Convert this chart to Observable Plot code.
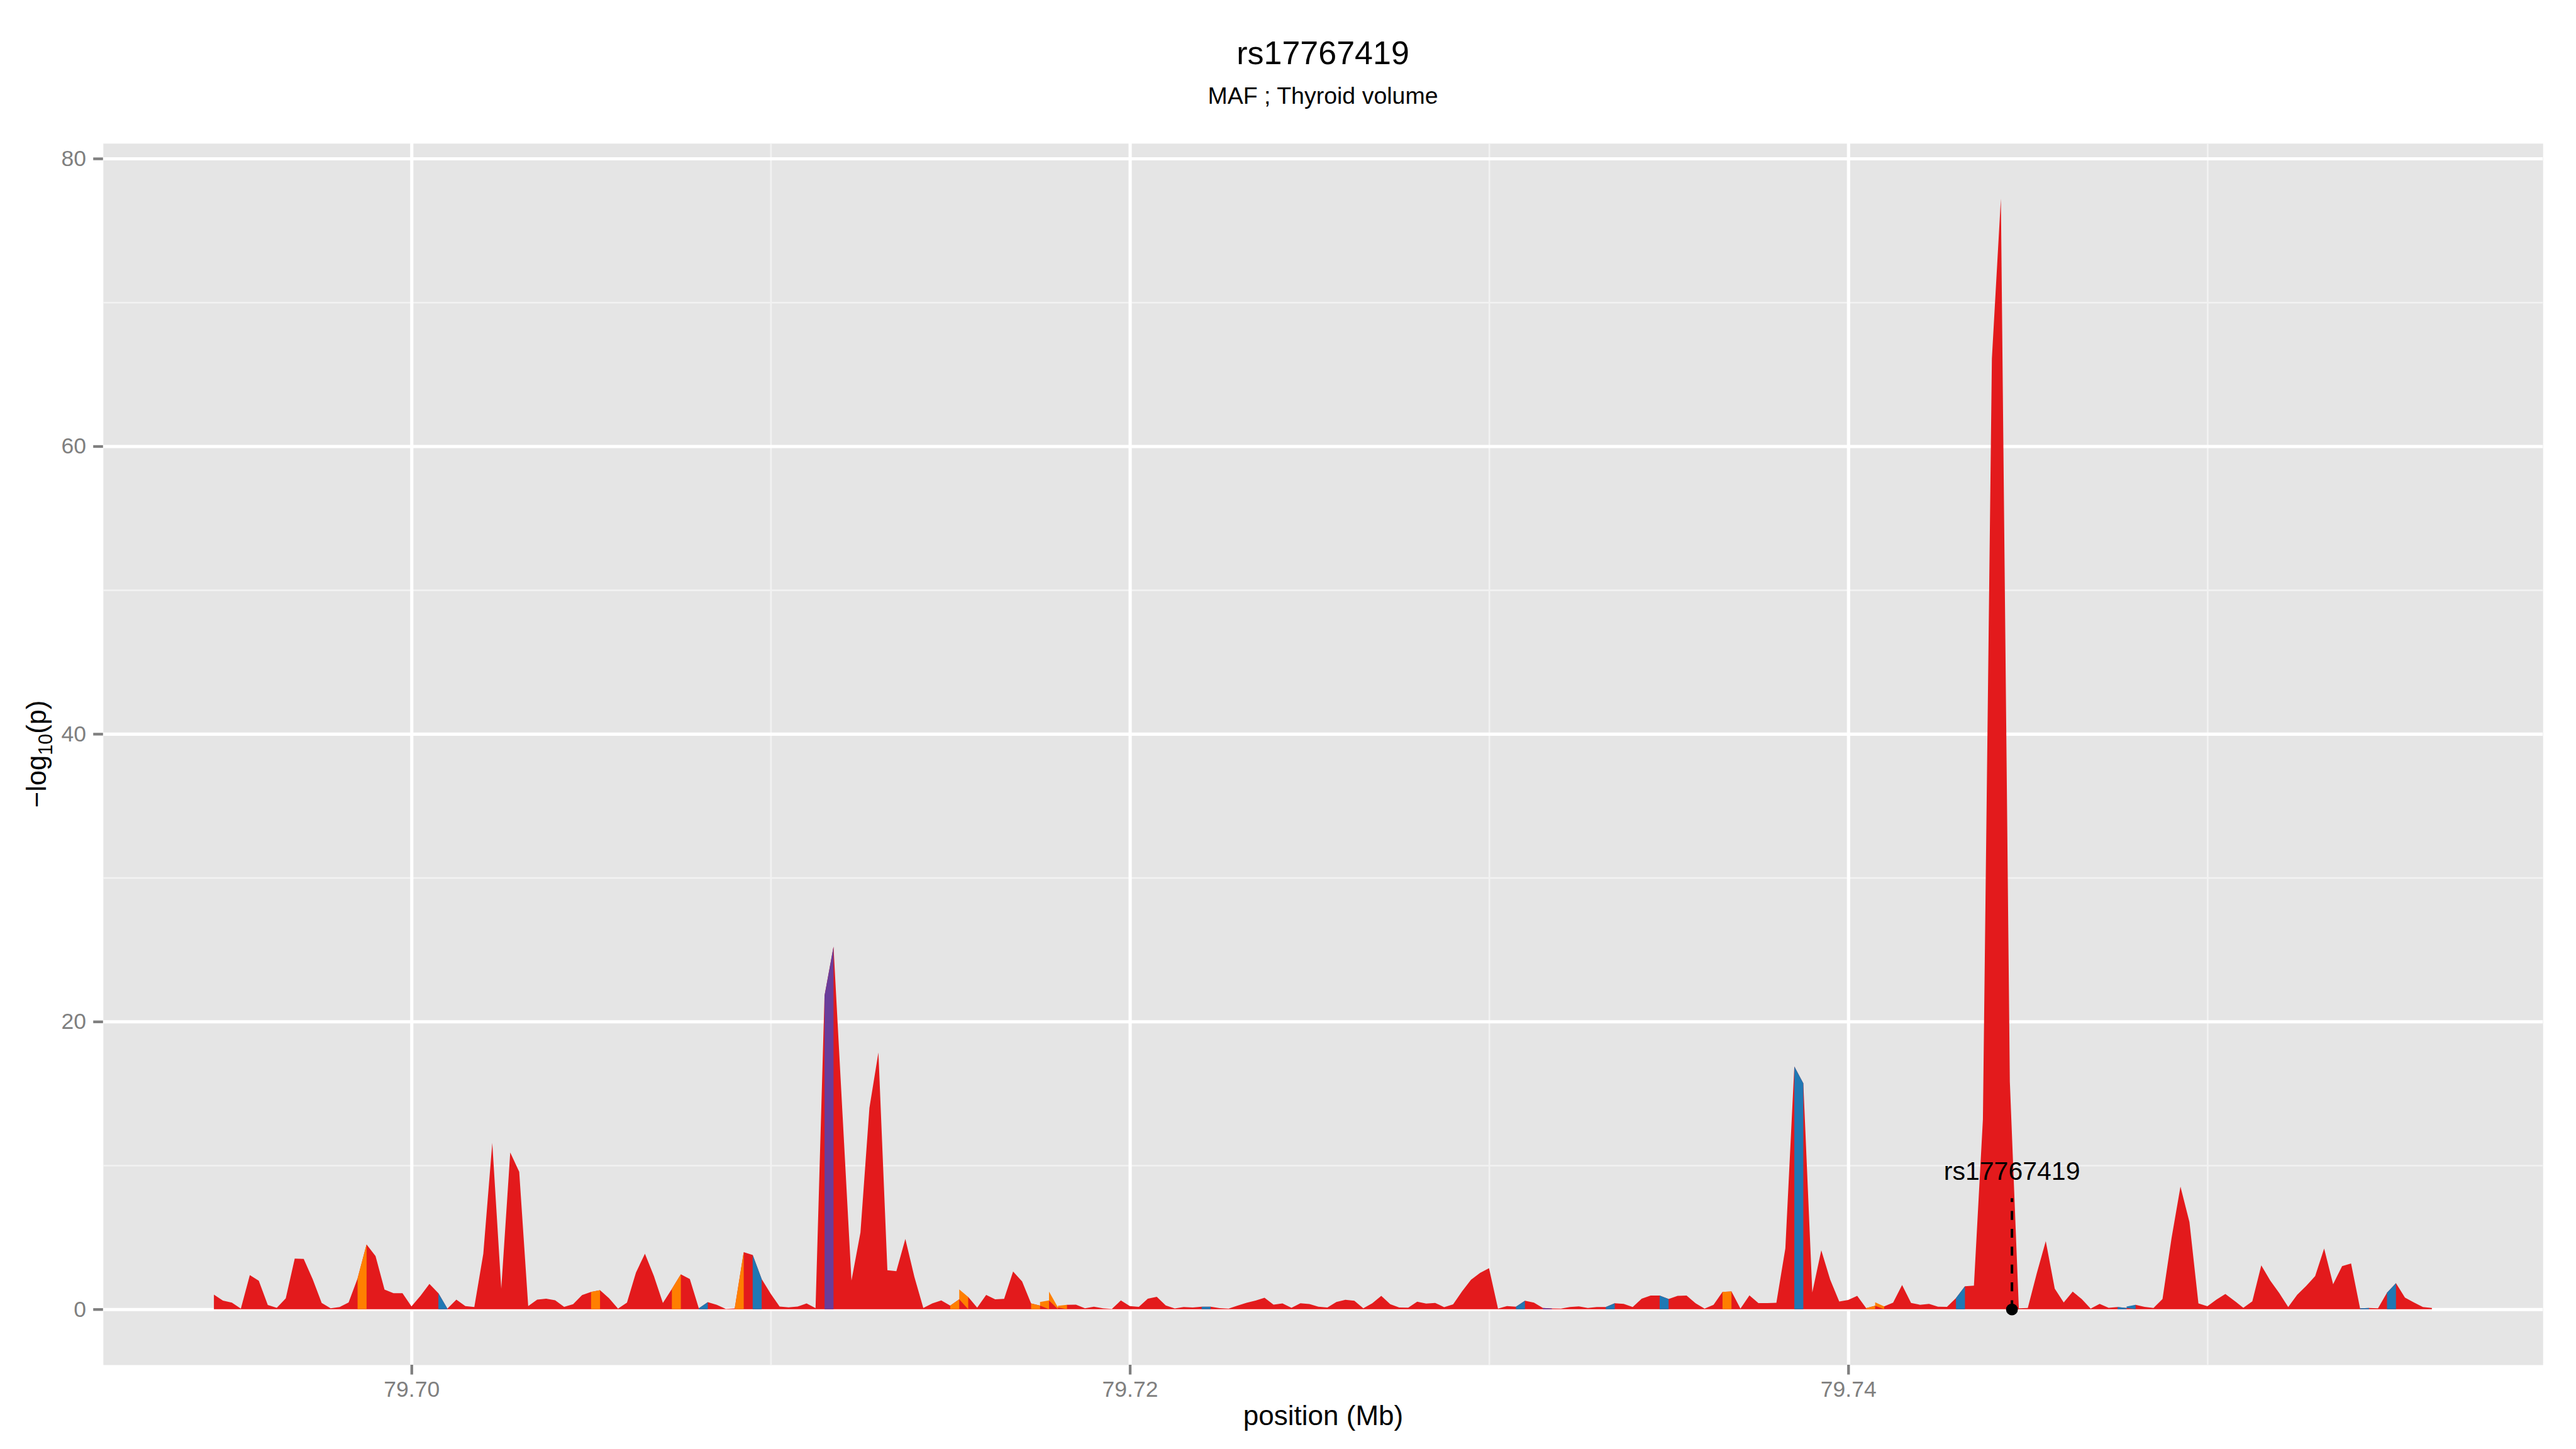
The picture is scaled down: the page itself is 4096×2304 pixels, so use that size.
<!DOCTYPE html>
<html>
<head>
<meta charset="utf-8">
<script src="https://cdn.jsdelivr.net/npm/d3@7"></script>
<script src="https://cdn.jsdelivr.net/npm/@observablehq/plot@0.6"></script>
<style>
html, body { margin: 0; padding: 0; background: #ffffff; }
#wrap { position: relative; width: 4096px; height: 2304px; overflow: hidden;
  font-family: "Liberation Sans", Arial, Helvetica, sans-serif; }
#header { position: relative; width: 4096px; height: 190px; }
#title { position: absolute; left: 163.8px; width: 3879.4px; top: 57.8px;
  font-size: 52px; line-height: 52px; text-align: center; color: #000; white-space: nowrap; }
#subtitle { position: absolute; left: 163.8px; width: 3879.4px; top: 133.8px;
  font-size: 37.5px; line-height: 37.5px; text-align: center; color: #000; white-space: nowrap; }
#chart svg { display: block; }
</style>
</head>
<body>
<div id="wrap">
  <div id="header">
    <div id="title">rs17767419</div>
    <div id="subtitle">MAF ; Thyroid volume</div>
  </div>
  <div id="chart"></div>
</div>
<script>
// ---- data ----
const positions = [
  79.69450,79.69475,79.69500,79.69525,79.69550,79.69575,79.69600,79.69625,79.69650,79.69675,
  79.69700,79.69725,79.69750,79.69775,79.69800,79.69825,79.69850,79.69875,79.69900,79.69925,
  79.69950,79.69975,79.70000,79.70025,79.70050,79.70075,79.70100,79.70125,79.70150,79.70175,
  79.70200,79.70225,79.70250,79.70275,79.70300,79.70325,79.70350,79.70375,79.70400,79.70425,
  79.70450,79.70475,79.70500,79.70525,79.70550,79.70575,79.70600,79.70625,79.70650,79.70675,
  79.70700,79.70725,79.70750,79.70775,79.70800,79.70825,79.70850,79.70875,79.70900,79.70925,
  79.70950,79.70975,79.71000,79.71025,79.71050,79.71075,79.71100,79.71125,79.71150,79.71175,
  79.71200,79.71225,79.71250,79.71275,79.71300,79.71325,79.71350,79.71375,79.71400,79.71425,
  79.71450,79.71475,79.71500,79.71525,79.71550,79.71575,79.71600,79.71625,79.71650,79.71675,
  79.71700,79.71725,79.71750,79.71775,79.71800,79.71825,79.71850,79.71875,79.71900,79.71925,
  79.71950,79.71975,79.72000,79.72025,79.72050,79.72075,79.72100,79.72125,79.72150,79.72175,
  79.72200,79.72225,79.72250,79.72275,79.72300,79.72325,79.72350,79.72375,79.72400,79.72425,
  79.72450,79.72475,79.72500,79.72525,79.72550,79.72575,79.72600,79.72625,79.72650,79.72675,
  79.72700,79.72725,79.72750,79.72775,79.72800,79.72825,79.72850,79.72875,79.72900,79.72925,
  79.72950,79.72975,79.73000,79.73025,79.73050,79.73075,79.73100,79.73125,79.73150,79.73175,
  79.73200,79.73225,79.73250,79.73275,79.73300,79.73325,79.73350,79.73375,79.73400,79.73425,
  79.73450,79.73475,79.73500,79.73525,79.73550,79.73575,79.73600,79.73625,79.73650,79.73675,
  79.73700,79.73725,79.73750,79.73775,79.73800,79.73825,79.73850,79.73875,79.73900,79.73925,
  79.73950,79.73975,79.74000,79.74025,79.74050,79.74075,79.74100,79.74125,79.74150,79.74175,
  79.74200,79.74225,79.74250,79.74275,79.74300,79.74325,79.74350,79.74375,79.74400,79.74425,
  79.74450,79.74475,79.74500,79.74525,79.74550,79.74575,79.74600,79.74625,79.74650,79.74675,
  79.74700,79.74725,79.74750,79.74775,79.74800,79.74825,79.74850,79.74875,79.74900,79.74925,
  79.74950,79.74975,79.75000,79.75025,79.75050,79.75075,79.75100,79.75125,79.75150,79.75175,
  79.75200,79.75225,79.75250,79.75275,79.75300,79.75325,79.75350,79.75375,79.75400,79.75425,
  79.75450,79.75475,79.75500,79.75525,79.75550,79.75575,79.75600,79.75625
];
const logP = [
  1.02,0.60,0.46,0.04,2.37,1.98,0.29,0.10,0.75,3.52,
  3.50,2.09,0.44,0.06,0.15,0.47,2.14,4.50,3.69,1.37,
  1.11,1.11,0.19,0.93,1.76,1.11,0.04,0.66,0.22,0.15,
  3.86,11.56,1.43,10.9,9.55,0.22,0.67,0.73,0.62,0.16,
  0.35,0.98,1.20,1.32,0.76,0.04,0.46,2.55,3.86,2.30,
  0.44,1.41,2.43,2.10,0.06,0.49,0.30,0.02,0.05,3.97,
  3.77,2.10,1.08,0.18,0.13,0.18,0.40,0.07,21.8,25.2,
  13.6,1.99,5.33,14.0,17.85,2.71,2.64,4.88,2.26,0.09,
  0.40,0.61,0.25,0.69,0.85,0.11,0.99,0.69,0.72,2.62,
  1.93,0.40,0.25,0.61,0.12,0.31,0.32,0.06,0.17,0.06,
  0.02,0.61,0.22,0.16,0.73,0.86,0.26,0.05,0.15,0.12,
  0.17,0.17,0.07,0.04,0.25,0.45,0.60,0.80,0.32,0.40,
  0.10,0.41,0.36,0.17,0.12,0.50,0.65,0.59,0.06,0.41,
  0.93,0.35,0.12,0.11,0.52,0.39,0.44,0.14,0.34,1.25,
  2.05,2.52,2.85,0.04,0.22,0.17,0.59,0.46,0.09,0.05,
  0.04,0.15,0.19,0.09,0.15,0.15,0.41,0.37,0.15,0.73,
  0.95,0.95,0.71,0.93,0.95,0.41,0.04,0.31,1.20,1.23,
  0.04,0.96,0.43,0.43,0.45,4.23,16.88,15.71,1.17,4.10,
  2.04,0.53,0.64,0.93,0.08,0.24,0.19,0.46,1.68,0.44,
  0.31,0.37,0.17,0.16,0.77,1.59,1.64,13.2,66.1,77.2,
  15.8,0.06,0.09,2.5,4.73,1.43,0.47,1.22,0.71,0.04,
  0.37,0.10,0.15,0.09,0.31,0.16,0.09,0.71,4.92,8.53,
  6.06,0.40,0.21,0.66,1.06,0.59,0.10,0.54,3.05,1.99,
  1.12,0.15,1.00,1.62,2.30,4.22,1.74,2.99,3.18,0.06,
  0.09,0.06,1.15,1.81,0.81,0.47,0.15,0.09
];
// intervals (index of the starting point, 0-based) drawn in another colour
const orangeIntervals = [16,42,51,58,82,83,91,92,93,94,168,184,185];
const blueIntervals   = [25,54,60,110,145,155,161,176,194,212,213,239,242];
const purpleIntervals = [68,148];
const classNames  = ["class1","class2","class3","class4"];
const classColors = ["#E31A1C","#FF7F00","#1F78B4","#6A3D9A"];

const snpName = "rs17767419";
const snpPosition = 79.74455;
const snpLineTop = 7.72;
const snpLabelY = 9.6;

const xMajorTicks = [79.70, 79.72, 79.74];
const xMinorTicks = [79.71, 79.73, 79.75];
const yMajorTicks = [0, 20, 40, 60, 80];
const yMinorTicks = [10, 30, 50, 70];

// ---- build tables ----
const points = positions.map((x, i) => ({x, y: logP[i]}));
function classOf(i) {
  if (orangeIntervals.includes(i)) return classNames[1];
  if (blueIntervals.includes(i)) return classNames[2];
  if (purpleIntervals.includes(i)) return classNames[3];
  return classNames[0];
}
const segs = [];
for (let i = 0; i < positions.length - 1; i++) {
  const c = classOf(i);
  if (c === classNames[0]) continue;
  segs.push({x: positions[i], y: logP[i], id: i, cls: c});
  segs.push({x: positions[i + 1], y: logP[i + 1], id: i, cls: c});
}
const xExt = d3.extent(positions);
const xPad = (xExt[1] - xExt[0]) * 0.05;
const yMax = d3.max(logP);
const yPad = yMax * 0.05;

const FONT = '"Liberation Sans", Arial, Helvetica, sans-serif';
const GREY = "#7F7F7F";

const plot = Plot.plot({
  width: 4096,
  height: 2114,
  marginTop: 37.8,
  marginBottom: 134,
  marginLeft: 163.8,
  marginRight: 52.8,
  style: {fontFamily: FONT, background: "#ffffff", color: GREY, overflow: "visible"},
  x: {domain: [xExt[0] - xPad, xExt[1] + xPad]},
  y: {domain: [-yPad, yMax + yPad]},
  color: {type: "ordinal", domain: classNames, range: classColors},
  marks: [
    Plot.frame({fill: "#E5E5E5", stroke: "none"}),
    Plot.gridX(xMinorTicks, {stroke: "#F2F2F2", strokeOpacity: 1, strokeWidth: 2.6}),
    Plot.gridY(yMinorTicks, {stroke: "#F2F2F2", strokeOpacity: 1, strokeWidth: 2.6}),
    Plot.gridX(xMajorTicks, {stroke: "#FFFFFF", strokeOpacity: 1, strokeWidth: 5.1}),
    Plot.gridY(yMajorTicks, {stroke: "#FFFFFF", strokeOpacity: 1, strokeWidth: 5.1}),
    Plot.areaY(points, {x: "x", y: "y", fill: classColors[0]}),
    Plot.areaY(segs, {x: "x", y: "y", z: "id", fill: "cls"}),
    Plot.ruleX([snpPosition], {x: d => d, y1: 0, y2: snpLineTop, stroke: "#000", strokeWidth: 4, strokeDasharray: "14.2,14.2"}),
    Plot.dot([snpPosition], {x: d => d, y: 0, r: 9.4, fill: "#000", stroke: "none"}),
    Plot.text([snpName], {x: snpPosition, y: snpLabelY, text: d => d, fontSize: 41, fill: "#000"}),
    Plot.axisX(xMajorTicks, {anchor: "bottom", tickSize: 15.6, tickPadding: 9.2, tickFormat: d3.format(".2f"),
      fontSize: 35.5, color: GREY, stroke: GREY, strokeWidth: 4.3, label: null}),
    Plot.axisY(yMajorTicks, {anchor: "left", tickSize: 15.6, tickPadding: 11.7, tickFormat: d3.format("d"),
      fontSize: 35.5, color: GREY, stroke: GREY, strokeWidth: 4.3, label: null}),
    Plot.text(["position (Mb)"], {frameAnchor: "bottom", lineAnchor: "bottom", dy: 95.6, fontSize: 44, fill: "#000"})
  ]
});
document.getElementById("chart").appendChild(plot);

// y-axis title with subscript
const svg = d3.select(plot);
const cy = (227.8 + 2170) / 2 - 190;
const yt = svg.append("text")
  .attr("transform", `translate(73.3, ${cy}) rotate(-90)`)
  .attr("text-anchor", "middle")
  .attr("fill", "#000")
  .style("font-family", FONT)
  .style("font-size", "43.5px");
yt.append("tspan").text("\u2212log");
yt.append("tspan").attr("dy", 10).style("font-size", "30.5px").text("10");
yt.append("tspan").attr("dy", -10).text("(p)");
</script>
</body>
</html>
